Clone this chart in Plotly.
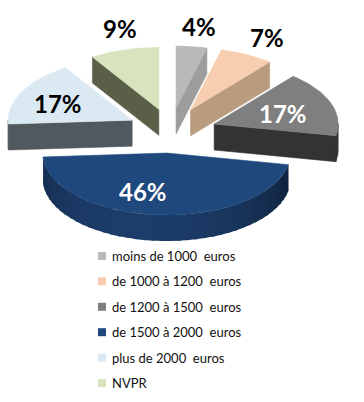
import math
import plotly.graph_objects as go

categories = ["moins de 1000\u00a0 euros", "de 1000 à 1200\u00a0 euros", "de 1200 à 1500\u00a0 euros",
              "de 1500 à 2000\u00a0 euros", "plus de 2000\u00a0 euros", "NVPR"]
values = [4, 7, 17, 46, 17, 9]

top_colors = ["#b9b9bb", "#f7cfb0", "#7f7f7f", "#1f497d", "#dbe9f2", "#d8e4bd"]
wall_colors = ["#9d9d9d", "#b99b80", "#333333", "#1c3c69", "#50595e", "#5a5f48"]
gradient = [False, False, False, True, False, False]
pull_x = [0.55, 0.41, 0.40, 0.10, 0.32, 0.25]
pull_y = [0.38, 0.39, 0.35, 0.35, 0.40, 0.37]
label_xy = [(199, 26), (267, 37), (283, 113), (143, 191), (58, 103), (120, 28)]
draw_order = [5, 0, 1, 4, 2, 3]

CX, CY, RX, RY, DEPTH = 167.5, 131.4, 124, 62, 26
FONT = "Lato, Carlito, 'Open Sans', sans-serif"


def point(ax, ay, deg):
    a = math.radians(deg)
    return ax + RX * math.sin(a), ay - RY * math.cos(a)


def arc(ax, ay, a0, a1, step=1.5):
    n = max(2, int(abs(a1 - a0) / step) + 1)
    return [point(ax, ay, a0 + (a1 - a0) * i / (n - 1)) for i in range(n)]


def poly(pts, color, name, lw=0.6):
    return go.Scatter(
        x=[p[0] for p in pts] + [pts[0][0]], y=[p[1] for p in pts] + [pts[0][1]],
        mode="lines", fill="toself", fillcolor=color, line=dict(color=color, width=lw),
        name=name, hoverinfo="name", showlegend=False)


def shade(color, f):
    r, g, b = (int(color[i:i + 2], 16) for i in (1, 3, 5))
    return f"rgb({r * f:.0f},{g * f:.0f},{b * f:.0f})"


total = sum(values)
angles = []
cum = 0
for v in values:
    angles.append((cum / total * 360, (cum + v) / total * 360))
    cum += v

fig = go.Figure()
for i in draw_order:
    a0, a1 = angles[i]
    mid = math.radians((a0 + a1) / 2)
    ax = CX + pull_x[i] * RX * math.sin(mid)
    ay = CY - pull_y[i] * RY * math.cos(mid)
    name = categories[i]
    # radial walls that face the viewer
    for edge, visible in ((a1, math.sin(math.radians(a1)) > 0), (a0, math.sin(math.radians(a0)) < -1e-9)):
        if visible:
            e = point(ax, ay, edge)
            fig.add_trace(poly([(ax, ay), e, (e[0], e[1] + DEPTH), (ax, ay + DEPTH)], wall_colors[i], name))
    # outer rim, front half only
    lo, hi = max(a0, 90), min(a1, 270)
    if hi > lo:
        if gradient[i]:
            steps = int((hi - lo) / 4)
            for k in range(steps):
                b0 = lo + (hi - lo) * k / steps
                b1 = lo + (hi - lo) * (k + 1) / steps
                top = arc(ax, ay, b0, min(hi, b1 + 1.5))
                f = 0.6 + 0.4 * max(0, math.cos(math.radians((b0 + b1) / 2 - 195)))
                fig.add_trace(poly(top + [(x, y + DEPTH) for x, y in reversed(top)],
                                   shade(wall_colors[i], f), name, lw=0))
        else:
            top = arc(ax, ay, lo, hi)
            fig.add_trace(poly(top + [(x, y + DEPTH) for x, y in reversed(top)], wall_colors[i], name))
    # top face
    fig.add_trace(poly([(ax, ay)] + arc(ax, ay, a0, a1), top_colors[i], name))

annotations = []
white_labels = {2, 3}
for i, v in enumerate(values):
    annotations.append(dict(x=label_xy[i][0], y=label_xy[i][1], text=f"<b>{v}%</b>", showarrow=False,
                            font=dict(family=FONT, size=24, color="white" if i in white_labels else "black"),
                            xref="x", yref="y"))

# key on the lower part of the chart
LEG_X, LEG_Y, LEG_STEP, KEY = 102, 256, 25.4, 8
shapes = []
for i, c in enumerate(categories):
    y = LEG_Y + i * LEG_STEP
    shapes.append(dict(type="rect", xref="x", yref="y", x0=LEG_X - KEY / 2, x1=LEG_X + KEY / 2,
                       y0=y - KEY / 2, y1=y + KEY / 2, fillcolor=top_colors[i], line_width=0))
    annotations.append(dict(x=110, y=y, text=c, xanchor="left", showarrow=False, xref="x", yref="y",
                            font=dict(family=FONT, size=13, color="#111111")))

fig.update_layout(
    width=364, height=402, margin=dict(l=0, r=0, t=0, b=0), showlegend=False,
    paper_bgcolor="white", plot_bgcolor="white", annotations=annotations, shapes=shapes,
    xaxis=dict(range=[0, 364], visible=False, fixedrange=True),
    yaxis=dict(range=[402, 0], visible=False, fixedrange=True),
)
fig.write_html("out.html", config=dict(displayModeBar=False),
               post_script="document.body.style.margin='0';")
